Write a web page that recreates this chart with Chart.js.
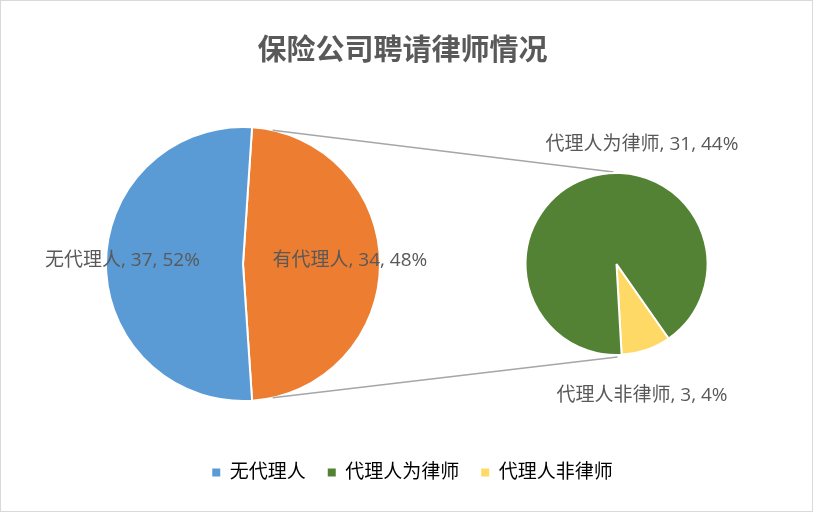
<!DOCTYPE html>
<html>
<head>
<meta charset="utf-8">
<script src="https://cdn.jsdelivr.net/npm/chart.js@4.4.1/dist/chart.umd.min.js"></script>
<style>
  html, body { margin: 0; padding: 0; background: #fff; }
  #wrap { position: relative; width: 813px; height: 512px; }
  #wrap canvas { position: absolute; left: 0; top: 0; }
  #frame { position: absolute; left: 0; top: 0; width: 813px; height: 512px; box-sizing: border-box; border: 1px solid #d9d9d9; pointer-events: none; }
</style>
</head>
<body>
<div id="wrap">
  <canvas id="mainPie" width="813" height="512"></canvas>
  <canvas id="subPie" width="813" height="512"></canvas>
  <div id="frame"></div>
</div>
<script>
const chartTitle = "保险公司聘请律师情况";
const mainLabels = ["有代理人", "无代理人"];
const mainValues = [34, 37];
const subLabels = ["代理人非律师", "代理人为律师"];
const subValues = [3, 31];
const legendLabels = ["无代理人", "代理人为律师", "代理人非律师"];

const mainColors = ["#ED7D31", "#5B9BD5"];
const subColors = ["#FFD966", "#548235"];
const legendColors = ["#5B9BD5", "#548235", "#FFD966"];
const textGray = "#595959";
const fontFamily = "'Open Sans', 'Noto Sans CJK SC', sans-serif";

const grandTotal = mainValues.reduce((a, b) => a + b, 0);

Chart.defaults.font.family = fontFamily;

// put the pie at a fixed spot, title and legend stay where the layout put them
const pieBox = {
  id: "pieBox",
  afterLayout(chart, args, opts) {
    const r = opts.r + 4;
    const a = chart.chartArea;
    a.left = opts.cx - r;
    a.right = opts.cx + r;
    a.top = opts.cy - r;
    a.bottom = opts.cy + r;
    a.width = 2 * r;
    a.height = 2 * r;
    if (opts.titleShift && chart.titleBlock) {
      chart.titleBlock.left += opts.titleShift;
      chart.titleBlock.right += opts.titleShift;
    }
    if (opts.legendShift && chart.legend) {
      chart.legend.left += opts.legendShift;
      chart.legend.right += opts.legendShift;
    }
  }
};

// "name, value, pct%" labels
const sliceText = {
  id: "sliceText",
  afterDatasetsDraw(chart, args, opts) {
    const meta = chart.getDatasetMeta(0);
    const ds = chart.data.datasets[0];
    const ctx = chart.ctx;
    ctx.save();
    ctx.font = "19px " + fontFamily;
    ctx.fillStyle = textGray;
    ctx.textAlign = "center";
    ctx.textBaseline = "middle";
    meta.data.forEach((arc, i) => {
      const p = opts.place[i];
      const mid = (arc.startAngle + arc.endAngle) / 2;
      const x = arc.x + p.k * arc.outerRadius * Math.cos(mid) + p.dx;
      const y = arc.y + p.k * arc.outerRadius * Math.sin(mid) + p.dy;
      const pct = Math.round(ds.data[i] / grandTotal * 100);
      ctx.fillText(`${chart.data.labels[i]}, ${ds.data[i]}, ${pct}%`, x, y);
    });
    ctx.restore();
  }
};

const mainChart = new Chart(document.getElementById("mainPie"), {
  type: "pie",
  data: {
    labels: mainLabels,
    datasets: [{
      data: mainValues,
      backgroundColor: mainColors,
      borderColor: "#fff",
      borderWidth: 2
    }]
  },
  options: {
    responsive: false,
    animation: false,
    rotation: 3.8,
    radius: 137,
    layout: { padding: { bottom: 20 } },
    plugins: {
      pieBox: { cx: 243, cy: 264, r: 137, titleShift: -4, legendShift: 6 },
      sliceText: { place: [{ k: 0.78, dx: 0, dy: -3 }, { k: 0.88, dx: 0, dy: -3 }] },
      tooltip: { enabled: false },
      title: {
        display: true,
        text: chartTitle,
        color: textGray,
        font: { size: 29, weight: "bold", family: "'Noto Sans CJK SC', sans-serif" },
        padding: { top: 32, bottom: 0 }
      },
      legend: {
        position: "bottom",
        onClick: null,
        labels: {
          boxWidth: 8,
          boxHeight: 8,
          padding: 22,
          color: textGray,
          font: { size: 19 },
          generateLabels: () => legendLabels.map((t, i) => ({
            text: t,
            fillStyle: legendColors[i],
            strokeStyle: legendColors[i],
            lineWidth: 0,
            hidden: false,
            index: i
          }))
        }
      }
    }
  },
  plugins: [pieBox, sliceText]
});

// grey lines from the big pie to the small one
const connectors = {
  id: "connectors",
  beforeDatasetsDraw(chart) {
    const big = mainChart.getDatasetMeta(0).data[0];
    const small = chart.getDatasetMeta(0).data[0];
    const R = big.outerRadius, r = small.outerRadius;
    const a = 12.5 * Math.PI / 180;
    const sx = big.x + R * Math.sin(a);
    const ctx = chart.ctx;
    ctx.save();
    ctx.strokeStyle = "#a6a6a6";
    ctx.lineWidth = 1.5;
    ctx.beginPath();
    ctx.moveTo(sx, big.y - R * Math.cos(a));
    ctx.lineTo(small.x - 3, small.y - r - 1);
    ctx.moveTo(sx, big.y + R * Math.cos(a));
    ctx.lineTo(small.x + 1, small.y + r + 2);
    ctx.stroke();
    ctx.restore();
  }
};

const subChart = new Chart(document.getElementById("subPie"), {
  type: "pie",
  data: {
    labels: subLabels,
    datasets: [{
      data: subValues,
      backgroundColor: subColors,
      borderColor: "#fff",
      borderWidth: 2
    }]
  },
  options: {
    responsive: false,
    animation: false,
    rotation: 145,
    radius: 91,
    plugins: {
      pieBox: { cx: 616.5, cy: 264, r: 91 },
      sliceText: { place: [{ k: 0, dx: 25.5, dy: 132 }, { k: 0, dx: 25.5, dy: -119 }] },
      tooltip: { enabled: false },
      title: { display: false },
      legend: { display: false }
    }
  },
  plugins: [pieBox, connectors, sliceText]
});
</script>
</body>
</html>
